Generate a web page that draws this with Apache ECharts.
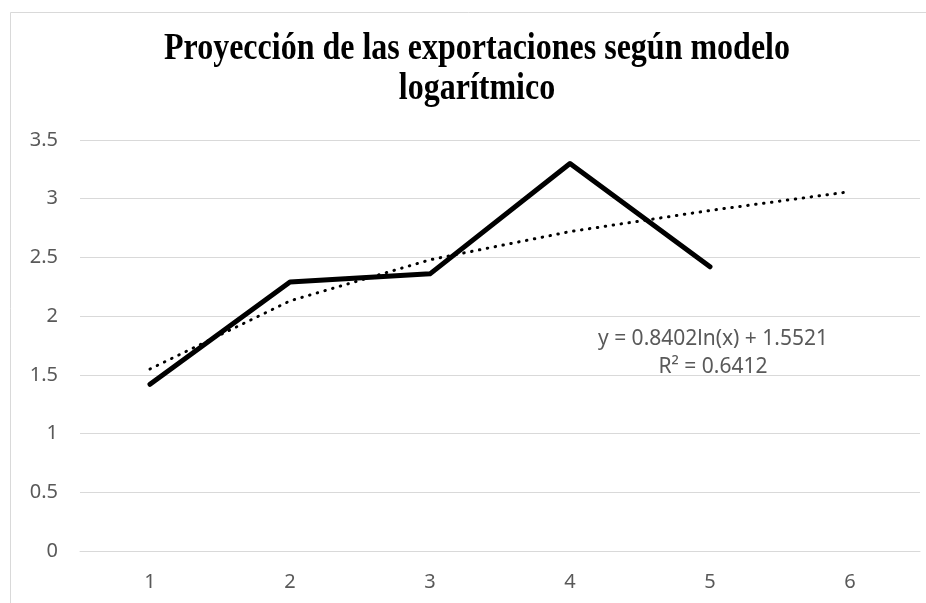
<!DOCTYPE html>
<html><head><meta charset="utf-8">
<script src="https://cdn.jsdelivr.net/npm/echarts@6/dist/echarts.min.js"></script>
<style>html,body{margin:0;padding:0;background:#fff}#c{width:926px;height:603px}</style>
</head><body><div id="c"></div>
<script>
var categories = ['1','2','3','4','5','6'];
var exportValues = [1.42, 2.29, 2.36, 3.30, 2.42];
var trendValues = [1.55, 2.13, 2.48, 2.72, 2.90, 3.06];
var titleText = 'Proyección de las exportaciones según modelo\nlogarítmico';
var equationText = 'y = 0.8402ln(x) + 1.5521\nR² = 0.6412';

var chart = echarts.init(document.getElementById('c'));
chart.setOption({
  backgroundColor: '#fff',
  animation: false,
  graphic: [
    { type: 'rect', shape: { x: 10.5, y: 12.5, width: 930, height: 600 }, style: { fill: 'none', stroke: '#d9d9d9', lineWidth: 1 }, silent: true },
    { type: 'text', x: 477, y: 29, scaleY: 1.2, silent: true,
      style: { text: titleText, x: 0, y: 0, fill: '#000', font: 'bold 32px "Liberation Serif"', align: 'center', verticalAlign: 'top', lineHeight: 33.5 } },
    { type: 'text', x: 713, y: 325, silent: true,
      style: { text: equationText, x: 0, y: 0, fill: '#595959', font: '21px "Noto Sans"', align: 'center', verticalAlign: 'top', lineHeight: 28 } }
  ],
  grid: { left: 80, right: 6, top: 140, bottom: 52, containLabel: false },
  xAxis: {
    type: 'category', data: categories, boundaryGap: true,
    axisLine: { show: true, lineStyle: { color: '#d9d9d9', width: 1 } },
    axisTick: { show: false },
    axisLabel: { color: '#595959', fontSize: 20, fontFamily: 'Noto Sans', margin: 21 }
  },
  yAxis: {
    type: 'value', min: 0, max: 3.5, interval: 0.5,
    axisLine: { show: false }, axisTick: { show: false },
    axisLabel: { color: '#595959', fontSize: 20, fontFamily: 'Noto Sans', margin: 22 },
    splitLine: { lineStyle: { color: '#d9d9d9', width: 1 } }
  },
  series: [
    { type: 'line', data: exportValues, symbol: 'none', lineStyle: { color: '#000', width: 5, cap: 'round', join: 'round' }, z: 3 },
    { type: 'line', data: trendValues, symbol: 'none', lineStyle: { color: '#000', width: 3, type: [0.5, 7.5], cap: 'round' }, z: 2 }
  ]
});
</script></body></html>
